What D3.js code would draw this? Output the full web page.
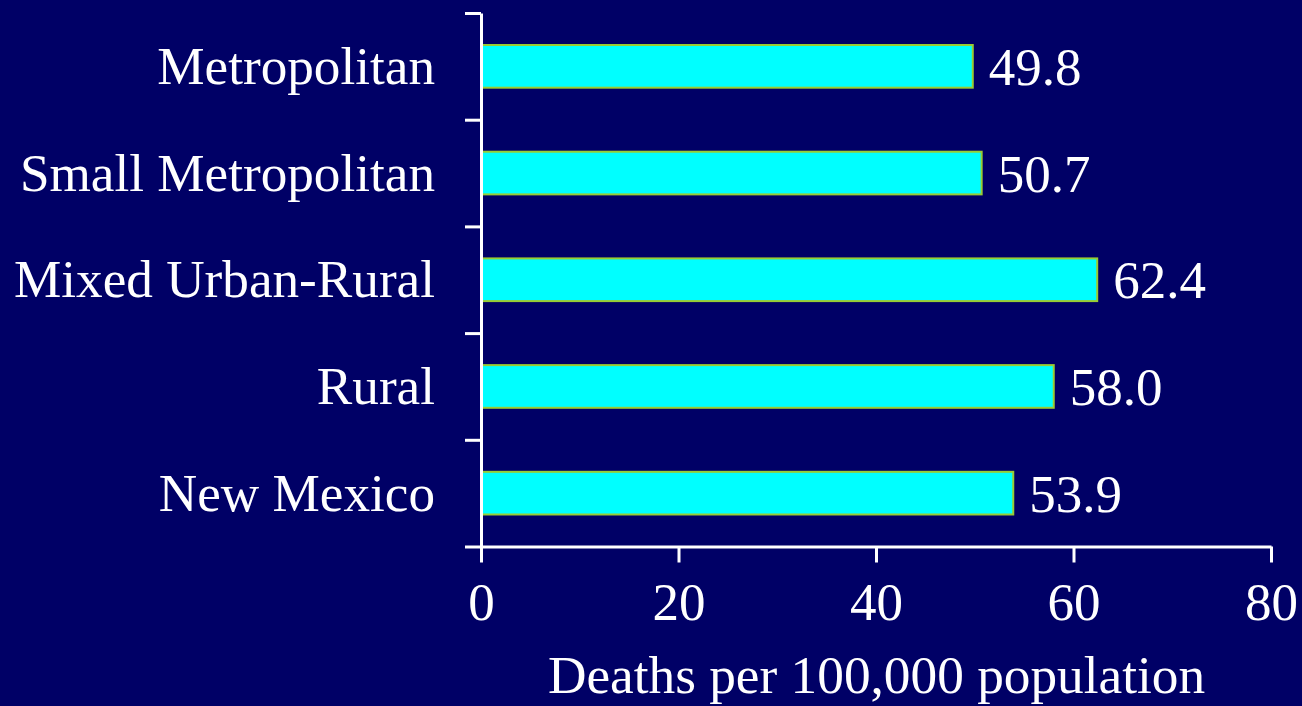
<!DOCTYPE html>
<html><head><meta charset="utf-8">
<script src="https://cdn.jsdelivr.net/npm/d3@7"></script>
<style>html,body{margin:0;padding:0;background:#000066;overflow:hidden}</style>
</head><body>
<svg id="c" width="1302" height="706"></svg>
<script>
const categories = ["Metropolitan","Small Metropolitan","Mixed Urban-Rural","Rural","New Mexico"];
const values = [49.8, 50.7, 62.4, 58.0, 53.9];
const xTicks = [0, 20, 40, 60, 80];
const xTitle = "Deaths per 100,000 population";

(function(){
const svg = d3.select("#c");
svg.append("rect").attr("width",1302).attr("height",706).attr("fill","#000066");
const pL = 481, pR = 1271, pT = 13, pB = 546.5;
const font = "'Liberation Serif','Times New Roman',serif";
const x = d3.scaleLinear().domain([0,80]).range([pL,pR]);
const y = d3.scaleBand().domain(categories).range([pT,pB]).paddingInner(0.6).paddingOuter(0.3);
const yb = d3.scaleLinear().domain([0,categories.length]).range([pT,pB]);

// bars
svg.selectAll("rect.bar").data(values).join("rect").attr("class","bar")
  .attr("x", x(0)).attr("y",(d,i)=>y(categories[i]))
  .attr("width", d=>x(d)-x(0)).attr("height", y.bandwidth())
  .attr("fill","#00ffff").attr("stroke","#99cc33").attr("stroke-width",2);

// y axis
const ya = svg.append("g").attr("transform",`translate(${pL},0)`)
  .call(d3.axisLeft(yb).tickValues(d3.range(categories.length+1)).tickSize(16).tickFormat("").tickSizeOuter(0));
ya.selectAll("path,line").attr("stroke","#fff").attr("stroke-width",3);

// x axis
const xa = svg.append("g").attr("transform",`translate(0,${pB})`)
  .call(d3.axisBottom(x).tickValues(xTicks).tickSize(16).tickSizeOuter(0));
xa.selectAll("path,line").attr("stroke","#fff").attr("stroke-width",3);
xa.selectAll("text").attr("fill","#fff").attr("font-family",font).attr("font-size",53)
  .attr("y",36).attr("dy","0.71em");

// category labels
svg.selectAll("text.cat").data(categories).join("text").attr("class","cat")
  .attr("x",435).attr("y",d=>y(d)+y.bandwidth()/2).attr("dy","0.33em")
  .attr("text-anchor","end").attr("fill","#fff").attr("font-family",font).attr("font-size",53.2)
  .text(d=>d);

// value labels
svg.selectAll("text.val").data(values).join("text").attr("class","val")
  .attr("x",d=>x(d)+16).attr("y",(d,i)=>y(categories[i])+y.bandwidth()/2).attr("dy","0.35em")
  .attr("fill","#fff").attr("font-family",font).attr("font-size",53)
  .text(d=>d.toFixed(1));

// x title
svg.append("text").attr("x",(548+1205)/2).attr("y",693).attr("text-anchor","middle")
  .attr("fill","#fff").attr("font-family",font).attr("font-size",53.3).text(xTitle);
})();
</script>
</body></html>
